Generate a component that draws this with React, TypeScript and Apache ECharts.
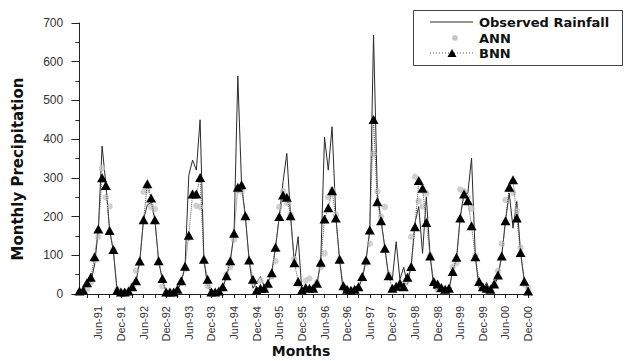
import React, { useEffect, useRef } from "react";
import * as echarts from "echarts";

// Months Jan-91 .. Dec-00 (index 0..119)
const tickLabels = [
  "Jun-91", "Dec-91", "Jun-92", "Dec-92", "Jun-93", "Dec-93", "Jun-94", "Dec-94", "Jun-95", "Dec-95",
  "Jun-96", "Dec-96", "Jun-97", "Dec-97", "Jun-98", "Dec-98", "Jun-99", "Dec-99", "Jun-00", "Dec-00",
];
const yTicks = [0, 100, 200, 300, 400, 500, 600, 700];

const observed = [
  3, 8, 20, 30, 75, 165, 382, 285, 165, 110, 5, 2,
  5, 3, 15, 30, 85, 193, 230, 236, 193, 85, 35, 5,
  5, 3, 10, 30, 70, 307, 346, 320, 450, 88, 20, 3,
  3, 5, 15, 45, 85, 155, 563, 280, 200, 88, 15, 30,
  45, 20, 30, 55, 120, 200, 290, 363, 200, 80, 148, 5,
  10, 15, 12, 25, 85, 405, 320, 432, 200, 88, 5, 3,
  5, 5, 15, 40, 85, 165, 669, 260, 190, 120, 45, 40,
  135, 38, 69, 25, 75, 185, 226, 105, 251, 100, 15, 10,
  5, 3, 10, 60, 88, 200, 260, 260, 351, 96, 15, 10,
  30, 5, 20, 45, 98, 189, 260, 170, 239, 107, 33, 15,
];

const ann = [
  5, 5, 12, 30, 88, 148, 325, 250, 226, 114, 12, 5,
  5, 5, 20, 60, 80, 264, 268, 225, 220, 80, 20, 5,
  5, 5, 10, 30, 65, 145, 260, 228, 225, 85, 20, 5,
  5, 5, 15, 50, 70, 140, 268, 265, 200, 85, 30, 5,
  35, 10, 20, 45, 85, 225, 265, 235, 205, 90, 25, 5,
  35, 40, 15, 30, 70, 105, 250, 270, 205, 90, 20, 10,
  10, 10, 15, 40, 80, 130, 362, 265, 200, 225, 50, 15,
  15, 20, 25, 35, 148, 303, 240, 226, 260, 100, 30, 10,
  10, 10, 15, 70, 80, 270, 265, 250, 220, 100, 30, 15,
  10, 10, 25, 60, 130, 243, 270, 262, 215, 120, 25, 15,
];

const bnn = [
  8, 10, 29, 43, 96, 168, 300, 280, 164, 115, 10, 5,
  5, 8, 19, 34, 85, 192, 285, 248, 192, 86, 40, 5,
  5, 5, 12, 34, 72, 152, 258, 258, 301, 90, 38, 5,
  5, 8, 19, 47, 86, 157, 276, 282, 202, 88, 38, 10,
  15, 15, 28, 55, 121, 200, 256, 250, 202, 81, 32, 10,
  17, 15, 15, 28, 82, 194, 223, 267, 196, 90, 21, 12,
  10, 12, 19, 45, 88, 165, 451, 238, 189, 118, 47, 15,
  20, 28, 19, 43, 71, 174, 293, 273, 185, 98, 32, 26,
  17, 12, 15, 58, 95, 196, 258, 241, 176, 96, 32, 19,
  15, 12, 26, 49, 98, 189, 276, 295, 196, 107, 33, 8,
];

const labelIdx = tickLabels.map((_, k) => 5 + 6 * k);
const minorIdx = Array.from({ length: 40 }, (_, k) => 2 + 3 * k);

export default function App() {
  const ref = useRef<HTMLDivElement>(null);
  useEffect(() => {
    if (!ref.current) return;
    const chart = echarts.init(ref.current, undefined, { renderer: "svg" });
    const axisFont = "Liberation Sans, Arial, sans-serif";
    const boldFont = "DejaVu Sans, Arial, sans-serif";
    chart.setOption({
      animation: false,
      backgroundColor: "#ffffff",
      grid: { left: 77.2, right: 97, top: 23, bottom: 67, containLabel: false, outerBoundsMode: "none" },
      xAxis: {
        type: "value",
        min: -0.6,
        max: 119.5,
        axisLine: { show: true, onZero: false, lineStyle: { color: "#222", width: 1 } },
        axisTick: { show: true, length: 4, customValues: minorIdx, lineStyle: { color: "#222" } },
        axisLabel: {
          customValues: labelIdx,
          rotate: 90,
          margin: 12,
          fontSize: 11,
          fontFamily: axisFont,
          color: "#333",
          formatter: (v: number) => {
            const k = Math.round((v - 5) / 6);
            return tickLabels[k] ?? "";
          },
        },
        splitLine: { show: false },
      },
      yAxis: {
        type: "value",
        min: 0,
        max: 700,
        interval: 100,
        axisLine: { show: true, lineStyle: { color: "#222", width: 1 } },
        axisTick: { show: true, length: 8, lineStyle: { color: "#222" } },
        minorTick: { show: true, splitNumber: 2, length: 4, lineStyle: { color: "#222" } },
        axisLabel: {
          margin: 14,
          fontSize: 12,
          fontFamily: axisFont,
          color: "#333",
          formatter: (v: number) => (yTicks.includes(v) ? String(v) : ""),
        },
        splitLine: { show: false },
      },
      series: [
        {
          name: "Observed Rainfall",
          type: "line",
          data: observed.map((v, i) => [i, v]),
          symbol: "none",
          lineStyle: { color: "#2a2a2a", width: 1 },
          z: 2,
        },
        {
          name: "ANN",
          type: "scatter",
          data: ann.map((v, i) => [i, v]),
          symbol: "circle",
          symbolSize: 6.5,
          itemStyle: { color: "#c6c6c6" },
          z: 3,
        },
        {
          name: "BNN",
          type: "line",
          data: bnn.map((v, i) => [i, v]),
          symbol: "triangle",
          symbolSize: [10, 9],
          showAllSymbol: true,
          itemStyle: { color: "#000" },
          lineStyle: { color: "#555", width: 1, type: "dotted" },
          z: 4,
        },
      ],
      graphic: [
        {
          type: "text",
          x: 18,
          y: 169,
          rotation: Math.PI / 2,
          style: {
            text: "Monthly Precipitation",
            font: `bold 15px ${boldFont}`,
            fill: "#111",
            align: "center",
            verticalAlign: "middle",
          },
        },
        {
          type: "text",
          x: 301,
          y: 351,
          style: {
            text: "Months",
            font: `bold 14px ${boldFont}`,
            fill: "#111",
            align: "center",
            verticalAlign: "middle",
          },
        },
        {
          type: "group",
          children: [
            {
              type: "rect",
              shape: { x: 413.5, y: 10.5, width: 209, height: 55 },
              style: { fill: "#fff", stroke: "#444", lineWidth: 1 },
            },
            {
              type: "line",
              shape: { x1: 430, y1: 22, x2: 473, y2: 22 },
              style: { stroke: "#2a2a2a", lineWidth: 1 },
            },
            {
              type: "text",
              x: 479,
              y: 22,
              style: { text: "Observed Rainfall", font: `bold 13px ${boldFont}`, fill: "#111", verticalAlign: "middle" },
            },
            {
              type: "circle",
              shape: { cx: 455, cy: 38, r: 3 },
              style: { fill: "#c6c6c6" },
            },
            {
              type: "text",
              x: 479,
              y: 38,
              style: { text: "ANN", font: `bold 13px ${boldFont}`, fill: "#111", verticalAlign: "middle" },
            },
            {
              type: "line",
              shape: { x1: 430, y1: 53, x2: 473, y2: 53 },
              style: { stroke: "#555", lineWidth: 1, lineDash: [1, 2] },
            },
            {
              type: "polygon",
              shape: { points: [[447.5, 57], [456.5, 57], [452, 49]] },
              style: { fill: "#000" },
            },
            {
              type: "text",
              x: 479,
              y: 53,
              style: { text: "BNN", font: `bold 13px ${boldFont}`, fill: "#111", verticalAlign: "middle" },
            },
          ],
        },
      ],
    });
    return () => chart.dispose();
  }, []);
  return (
    <div
      ref={ref}
      style={{ position: "fixed", left: 0, top: 0, width: 627, height: 361, background: "#fff" }}
    />
  );
}
